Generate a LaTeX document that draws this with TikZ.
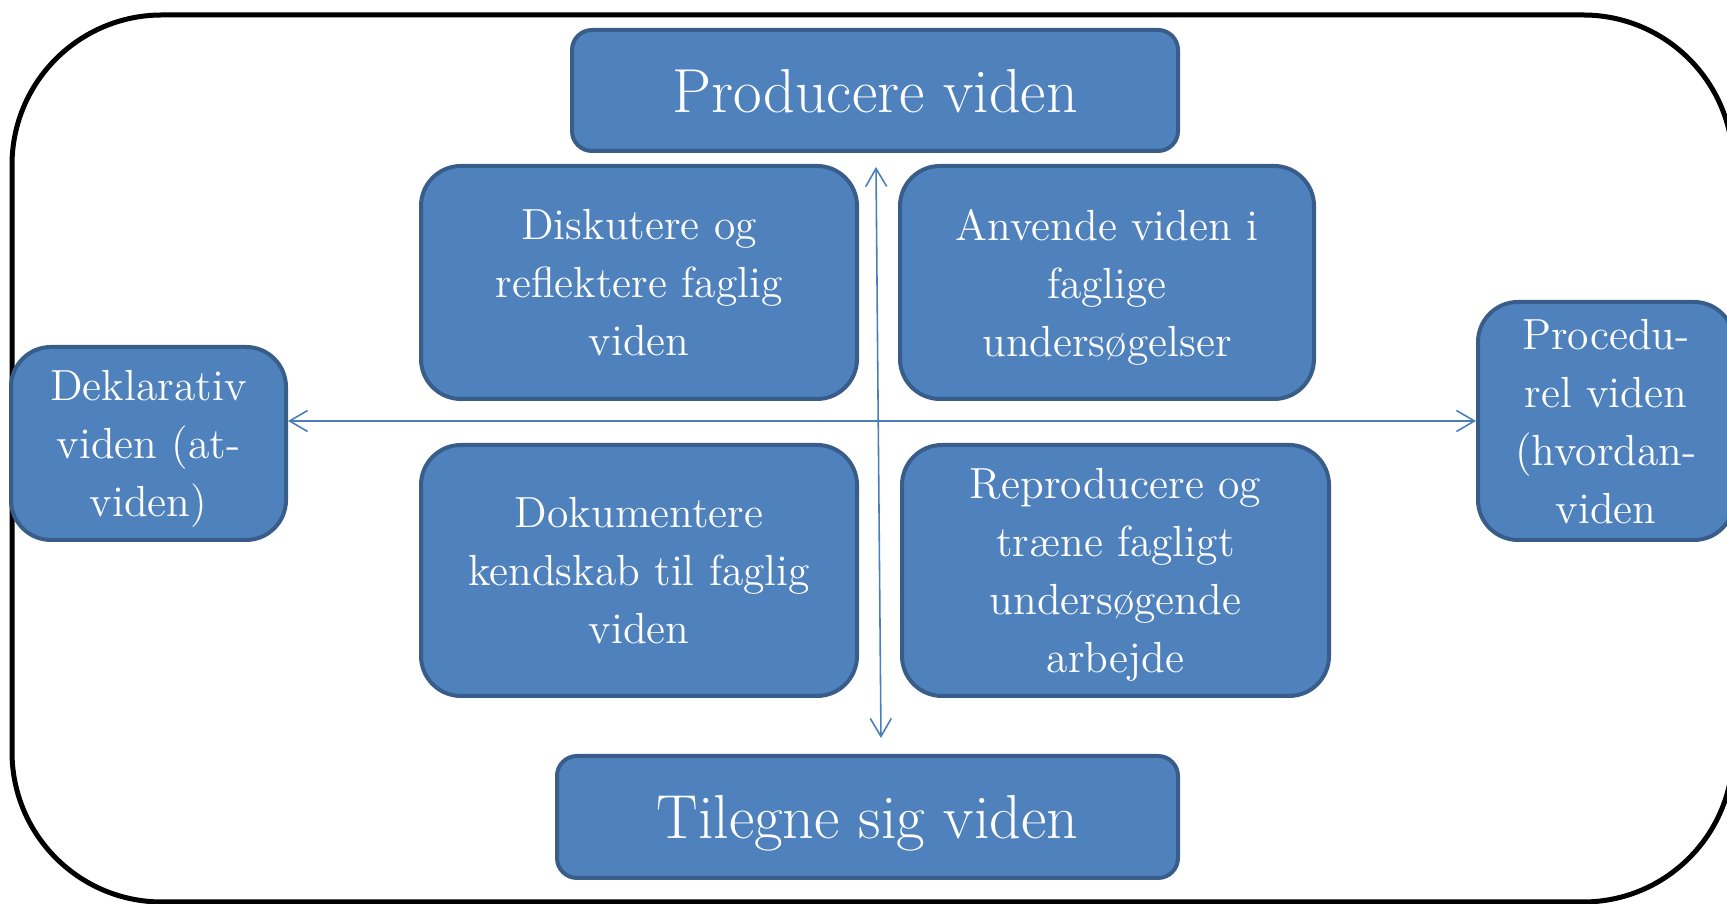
\documentclass[tikz,border=0pt]{standalone}
\usepackage{fontspec}
\usetikzlibrary{arrows.meta}
\definecolor{boxfill}{HTML}{4F81BD}
\definecolor{boxline}{HTML}{385D8A}
\definecolor{axisline}{HTML}{4A7EBB}
\begin{document}
\begin{tikzpicture}[x=0.1mm,y=-0.1mm,
    box/.style={draw=boxline,fill=boxfill,line width=0.4mm,rounded corners=4mm,
      text=white,align=center,inner sep=0pt,text depth=0pt,font=\fontsize{12.4}{16.5}\selectfont},
    bigbox/.style={box,rounded corners=2mm,font=\fontsize{17.7}{21}\selectfont},
    axis/.style={draw=axisline,line width=0.45pt,
      {Straight Barb[length=1.8mm,width=2.1mm]}-{Straight Barb[length=1.8mm,width=2.1mm]}}]
      \useasboundingbox (0,0) rectangle (1727,904);
      \draw[line width=0.5mm,rounded corners=15mm] (12,15) rectangle (1733,902);
      \node[bigbox,minimum width=60.6mm,minimum height=12.1mm] (prod) at (875,90.5) {Producere viden};
      \node[bigbox,minimum width=62.1mm,minimum height=12.2mm] (tileg) at (867.5,817) {Tilegne sig viden};
      \node[box,minimum width=43.6mm,minimum height=23.3mm] (disk) at (639,282.5) {Diskutere og\\reflektere faglig\\viden};
      \node[box,minimum width=41.4mm,minimum height=23.3mm] (anv) at (1107,282.5) {Anvende viden i\\faglige\\undersøgelser};
      \node[box,minimum width=43.6mm,minimum height=25.1mm] (dok) at (639,570.5) {Dokumentere\\kendskab til faglig\\viden};
      \node[box,minimum width=42.7mm,minimum height=25.1mm] (rep) at (1115.5,570.5) {Reproducere og\\træne fagligt\\undersøgende\\arbejde};
      \node[box,minimum width=27.5mm,minimum height=19.3mm] (dek) at (148.5,443.5) {Deklarativ\\viden (at-\\viden)};
      \node[box,minimum width=25.6mm,minimum height=23.8mm] (proc) at (1606,421) {Procedu-\\rel viden\\(hvordan-\\viden};
      \coordinate (up) at (876,167);
      \coordinate (down) at (881,738);
      \begin{scope}[axis]
        \draw (down) to (up);
        \draw (dek.east |- proc.west) to (proc.west);
      \end{scope}
    \end{tikzpicture}
\end{document}
